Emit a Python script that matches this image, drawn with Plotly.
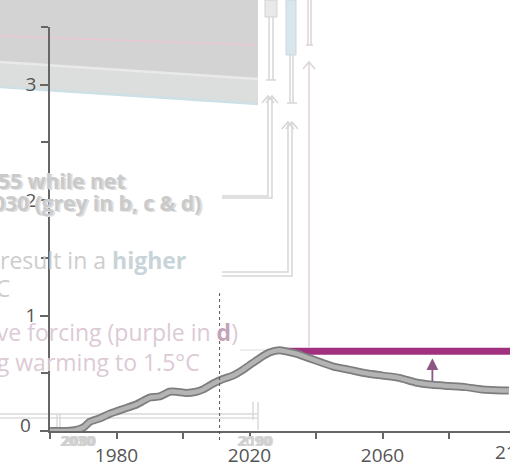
import plotly.graph_objects as go

# Net non-CO2 radiative forcing pathway (W/m2)
years = [1960, 1965, 1968, 1970, 1972, 1975, 1978, 1980, 1983, 1986, 1988, 1990,
         1993, 1996, 1998, 2001, 2004, 2006, 2009, 2012, 2015, 2018, 2020, 2023,
         2026, 2029, 2031, 2034, 2037, 2040, 2045, 2050, 2055, 2060, 2065, 2070,
         2075, 2080, 2085, 2090, 2098]
forcing = [0.0, 0.0, 0.01, 0.03, 0.08, 0.11, 0.15, 0.17, 0.20, 0.23, 0.26, 0.29,
           0.30, 0.34, 0.34, 0.33, 0.34, 0.36, 0.41, 0.45, 0.48, 0.53, 0.57, 0.63,
           0.68, 0.70, 0.69, 0.67, 0.64, 0.61, 0.56, 0.53, 0.50, 0.48, 0.46, 0.42,
           0.40, 0.39, 0.38, 0.36, 0.35]

# Constant forcing level held from 2030 onwards
held_years = [2030, 2100]
held_level = [0.69, 0.69]

# Arrow showing the gap between held and declining forcing
arrow_year = 2075
arrow_from = 0.42
arrow_to = 0.63

marker_year = 2011

y_ticks = [0, 1, 2, 3]
y_minor = [0.5, 1.5, 2.5, 3.5]
x_ticks = [1980, 2020, 2060]
x_minor = [1960, 2000, 2040, 2080]
x_edge_label = "2100"

W, H = 510, 465
AX = "#666666"
LBL = "#555555"
GHOST = "#d6d6d6"
FONT = "Open Sans"


def px(x):
    return x / W


def py(y):
    return 1 - y / H


fig = go.Figure()

fig.add_trace(go.Scatter(x=held_years, y=held_level, mode="lines",
                         line=dict(color="#a1307f", width=7), hoverinfo="skip"))
fig.add_trace(go.Scatter(x=years, y=forcing, mode="lines",
                         line=dict(color="#7d7d7d", width=8, shape="spline", smoothing=0.6),
                         hoverinfo="skip"))
fig.add_trace(go.Scatter(x=years, y=forcing, mode="lines",
                         line=dict(color="#b4b4b4", width=4.5, shape="spline", smoothing=0.6),
                         hoverinfo="skip"))

shapes = []
annotations = []

# --- faded background layers ---
def poly(points, fill, line=None, width=0):
    d = "M " + " L ".join(f"{px(a):.4f},{py(b):.4f}" for a, b in points) + " Z"
    shapes.append(dict(type="path", xref="paper", yref="paper", path=d,
                       fillcolor=fill, line=dict(color=line or fill, width=width),
                       layer="below"))


def seg(points, color=GHOST, width=1.5):
    d = "M " + " L ".join(f"{px(a):.4f},{py(b):.4f}" for a, b in points)
    shapes.append(dict(type="path", xref="paper", yref="paper", path=d,
                       line=dict(color=color, width=width), layer="below"))


poly([(0, 0), (258, 0), (258, 79), (0, 62)], "#d3d3d4")
poly([(0, 62), (258, 79), (258, 104), (0, 87)], "#dcdddd")
seg([(0, 36), (256, 45)], "#ebc8d5", 1.5)
seg([(0, 62), (258, 79)], "#e9e9e9", 2.5)
seg([(0, 87), (258, 104)], "#cde0e5", 2.5)

# boxes and stems
poly([(265, 0), (277, 0), (277, 17), (265, 17)], "#e9e9e9", "#d2d2d2", 1)
seg([(269, 17), (269, 80)])
seg([(273, 17), (273, 80)])
seg([(266, 80), (276, 80)])
poly([(286, 0), (296, 0), (296, 55), (286, 55)], "#d9e6eb", "#c9d9df", 1)
seg([(290, 55), (290, 103)])
seg([(293, 55), (293, 103)])
seg([(287, 103), (297, 103)])
seg([(308, 0), (308, 45)], "#ddd3d8")
seg([(311, 0), (311, 45)], "#ddd3d8")
seg([(306, 45), (313, 45)], "#ddd3d8")

# upward arrows with elbow connectors
for xs, tip, ys in [((268, 272), 96, (196, 198)),
                    ((288, 292), 122, (272, 276))]:
    for x, yb in zip(xs, ys):
        seg([(x, tip), (x, yb), (222, yb)])
        seg([(x - 6, tip + 7), (x, tip), (x + 6, tip + 7)])
seg([(309, 62), (309, 347)], "#ddd3d8")
seg([(303, 69), (309, 62), (315, 69)], "#ddd3d8")
seg([(240, 350), (283, 350)], "#dddddd", 1)

# lower panel frame remnants
seg([(0, 414), (258, 414)], "#d9d9d9", 1.5)
seg([(0, 418), (258, 418)], "#dddddd", 1.5)
seg([(57, 414), (57, 430)], "#d9d9d9")
seg([(60, 414), (60, 430)], "#d9d9d9")
seg([(253, 402), (253, 420)], "#d9d9d9")
seg([(258, 402), (258, 430)], "#d9d9d9")

for txt, dx in [("2030", 0), ("2050", 1), ("2080", 2)]:
    annotations.append(dict(xref="paper", yref="paper", x=px(58 + dx), y=py(440),
                            yanchor="middle", text=f"<b>{txt}</b>", showarrow=False,
                            font=dict(family=FONT, size=15, color="#d0d0d0")))
for txt, dx in [("2090", 0), ("2100", 2)]:
    annotations.append(dict(xref="paper", yref="paper", x=px(254 + dx), y=py(440),
                            yanchor="middle", text=f"<b>{txt}</b>", showarrow=False,
                            font=dict(family=FONT, size=15, color="#d0d0d0")))

# faded caption text
def caption(text, right, yc, color, size, dx=0, dy=0):
    annotations.append(dict(xref="paper", yref="paper", x=px(right + dx), y=py(yc + dy),
                            xanchor="right", yanchor="middle", text=text,
                            showarrow=False,
                            font=dict(family=FONT, size=size, color=color)))


for dx, dy, col in [(2, 1, "#dedede"), (0, 0, "#cacaca")]:
    caption("<b>2055 while net</b>", 127, 181, col, 21, dx, dy)
    caption("<b>2030 (grey in b, c &amp; d)</b>", 203, 203, col, 21, dx, dy)
caption("result in a <span style='color:#c8d4d8'><b>higher</b></span>", 188, 260,
        "#cdcdcd", 23)
caption("°C", 12, 288, "#cdcdcd", 23)
caption("radiative forcing (purple in <b><span style='color:#c4a3b9'>d</span></b>)",
        240, 332, "#dccad5", 23)
caption("limiting warming to 1.5°C", 202, 362, "#dccad5", 23)

# --- foreground marks ---
shapes.append(dict(type="line", xref="x", yref="paper", x0=marker_year, x1=marker_year,
                   y0=py(293), y1=py(440), line=dict(color="#555555", width=1, dash="dot")))

annotations.append(dict(x=arrow_year, y=arrow_to, ax=arrow_year, ay=arrow_from,
                        xref="x", yref="y", axref="x", ayref="y", text="",
                        showarrow=True, arrowhead=2, arrowsize=1.3, arrowwidth=1.8,
                        arrowcolor="#8c5783"))

# axis labels placed by hand: 2100 runs off the right edge, 0 sits above the axis line
annotations.append(dict(xref="paper", yref="paper", x=px(493), y=py(452),
                        xanchor="left", yanchor="middle", text=x_edge_label,
                        showarrow=False, font=dict(family=FONT, size=19, color=LBL)))
annotations.append(dict(xref="paper", yref="paper", x=px(33), y=py(425),
                        xanchor="right", yanchor="middle", text="0",
                        showarrow=False, font=dict(family=FONT, size=19, color=LBL)))

fig.update_layout(
    width=W, height=H,
    margin=dict(l=0, r=0, t=0, b=0, autoexpand=False),
    paper_bgcolor="white", plot_bgcolor="rgba(0,0,0,0)",
    showlegend=False,
    shapes=shapes,
    annotations=annotations,
    xaxis=dict(domain=[50 / W, 1], range=[1960, 1960 + 460 / 3.325], automargin=False,
               showgrid=False, zeroline=False, showline=True, linecolor=AX, linewidth=1.5,
               tickmode="array", tickvals=x_ticks, ticktext=[str(v) for v in x_ticks],
               ticks="outside", ticklen=6, tickcolor=AX, tickwidth=1.5,
               minor=dict(tickmode="array", tickvals=x_minor, ticks="outside",
                          ticklen=6, tickcolor=AX, tickwidth=1.5),
               tickfont=dict(family=FONT, size=19, color=LBL)),
    yaxis=dict(domain=[34 / H, 438 / H], range=[0, 3.5], automargin=False,
               showgrid=False, zeroline=False, showline=True, linecolor=AX, linewidth=1.5,
               tickmode="array", tickvals=y_ticks,
               ticktext=["" if v == 0 else str(v) for v in y_ticks],
               ticks="outside", ticklen=8, tickcolor=AX, tickwidth=1.5,
               minor=dict(tickmode="array", tickvals=y_minor, ticks="outside",
                          ticklen=7, tickcolor=AX, tickwidth=1.5),
               tickfont=dict(family=FONT, size=19, color=LBL)),
)

fig.write_html("out.html")
